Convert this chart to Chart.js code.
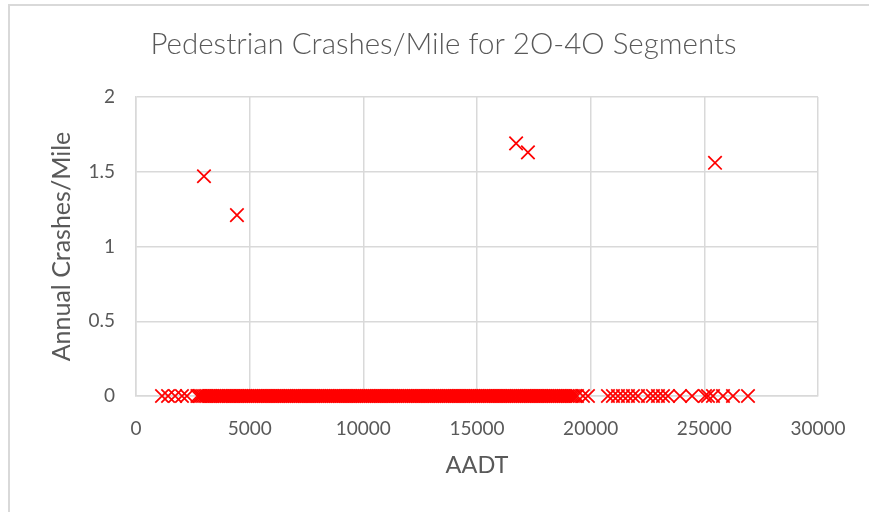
<!DOCTYPE html>
<html><head><meta charset="utf-8">
<script src="https://cdn.jsdelivr.net/npm/chart.js@4"></script>
<style>
html,body{margin:0;padding:0;background:#fff;overflow:hidden;}
#frame{position:absolute;left:8px;top:4px;width:2000px;height:2000px;border-left:2px solid #d9d9d9;border-top:2px solid #d9d9d9;}
#wrap{position:absolute;left:0;top:0;width:869px;height:512px;}
</style></head><body>
<div id="frame"></div>
<div id="wrap"><canvas id="c" width="869" height="512"></canvas></div>
<script>
const chartTitle = 'Pedestrian Crashes/Mile for 2O-4O Segments';
const xAxisTitle = 'AADT';
const yAxisTitle = 'Annual Crashes/Mile';
const xTickValues = [0, 5000, 10000, 15000, 20000, 25000, 30000];
const yTickValues = [0, 0.5, 1, 1.5, 2];

// segments with crashes
const aadtWithCrashes = [2990, 4440, 16720, 17240, 25470];
const crashesPerMile = [1.47, 1.21, 1.69, 1.63, 1.56];

// segments with zero crashes (AADT values)
const aadtZeroCrashes = [
  1144, 1410, 1720, 2020, 2240,
  2700, 2790, 2860, 2950, 3040, 3120, 3210, 3290, 3370, 3460, 3550, 3630, 3720, 3800, 3880, 3970,
  4060, 4140, 4230, 4310, 4400, 4480, 4570, 4650, 4740, 4820, 4910, 5000, 5080, 5170, 5250, 5340,
  5420, 5510, 5600, 5680, 5770, 5850, 5940, 6020, 6110, 6200, 6280, 6370, 6450, 6540, 6620, 6710,
  6800, 6880, 6970, 7050, 7140, 7220, 7310, 7400, 7480, 7570, 7650, 7740, 7820, 7910, 8000, 8080,
  8170, 8250, 8340, 8420, 8510, 8600, 8680, 8770, 8850, 8940, 9020, 9110, 9200, 9280, 9370, 9450,
  9540, 9620, 9710, 9800, 9880, 9970, 10050, 10140, 10220, 10310, 10400, 10480, 10570, 10650, 10740,
  10820, 10910, 11000, 11080, 11170, 11250, 11340, 11420, 11510, 11600, 11680, 11770, 11850, 11940,
  12020, 12110, 12200, 12280, 12370, 12450, 12540, 12620, 12710, 12800, 12880, 12970, 13050, 13140,
  13220, 13310, 13400, 13480, 13570, 13650, 13740, 13820, 13910, 14000, 14080, 14170, 14250, 14340,
  14420, 14510, 14600, 14680, 14770, 14850, 14940, 15020, 15110, 15200, 15280, 15370, 15450, 15540,
  15620, 15710, 15800, 15880, 15970, 16050, 16140, 16220, 16310, 16400, 16480, 16570, 16650, 16740,
  16820, 16910, 17000, 17080, 17170, 17250, 17340, 17420, 17510, 17600, 17680, 17770, 17850, 17940,
  18020, 18110, 18200, 18280, 18370, 18450, 18540, 18620, 18710, 18800, 18880, 18970, 19050, 19140,
  19220, 19310, 19400, 19660, 19880,
  20760, 20980, 21200, 21420, 21640, 21860, 22080, 22520, 22740, 22960, 23180, 23400, 23930, 24460,
  25030, 25160, 25380, 25820, 26260, 26920
];

const points = aadtZeroCrashes.map(x => ({x: x, y: 0}))
  .concat(aadtWithCrashes.map((x, i) => ({x: x, y: crashesPerMile[i]})));

const textColor = '#595959';
const gridColor = '#d9d9d9';
const fam = 'Lato, "Open Sans", sans-serif';

new Chart(document.getElementById('c'), {
  type: 'scatter',
  data: {
    datasets: [{
      label: 'Crashes/Mile',
      data: points,
      clip: false,
      pointStyle: 'crossRot',
      pointRadius: 9.5,
      pointHoverRadius: 9.5,
      borderColor: '#ff0000',
      backgroundColor: '#ff0000',
      borderWidth: 1.75,
      pointBorderWidth: 1.75
    }]
  },
  options: {
    responsive: false,
    animation: false,
    devicePixelRatio: 1,
    layout: { padding: { left: 18, right: 0, top: 0, bottom: 0 } },
    plugins: {
      legend: { display: false },
      tooltip: { enabled: false },
      title: {
        display: true,
        text: chartTitle,
        color: textColor,
        font: { family: fam, size: 29.5, weight: '300', lineHeight: 1.2 },
        padding: { top: 27, bottom: 34.6 }
      }
    },
    scales: {
      x: {
        type: 'linear',
        min: 0, max: 30000,
        afterBuildTicks: s => { s.ticks = xTickValues.map(v => ({value: v})); },
        afterFit: s => { s.height = 116; },
        ticks: { color: textColor, font: { family: fam, size: 19 }, padding: 21, callback: v => String(v), maxRotation: 0 },
        grid: { color: gridColor, lineWidth: 1.5, drawTicks: false },
        border: { color: gridColor, width: 1.5 },
        title: { display: true, text: xAxisTitle, color: textColor, font: { family: fam, size: 23.5 }, padding: { top: 0, bottom: 32 } }
      },
      y: {
        type: 'linear',
        min: 0, max: 2,
        afterBuildTicks: s => { s.ticks = yTickValues.map(v => ({value: v})); },
        afterFit: s => { s.width = 118; },
        ticks: { color: textColor, font: { family: fam, size: 19 }, padding: 21, callback: v => String(v) },
        grid: { color: gridColor, lineWidth: 1.5, drawTicks: false },
        border: { color: gridColor, width: 1.5 },
        title: { display: true, text: yAxisTitle, color: textColor, font: { family: fam, size: 25 }, padding: { top: 29, bottom: 0 } }
      },
      yRight: {
        type: 'linear',
        position: 'right',
        display: true,
        afterFit: s => { s.width = 51; },
        ticks: { display: false },
        grid: { display: false, drawTicks: false },
        border: { display: false }
      }
    }
  }
});
</script>
</body></html>
